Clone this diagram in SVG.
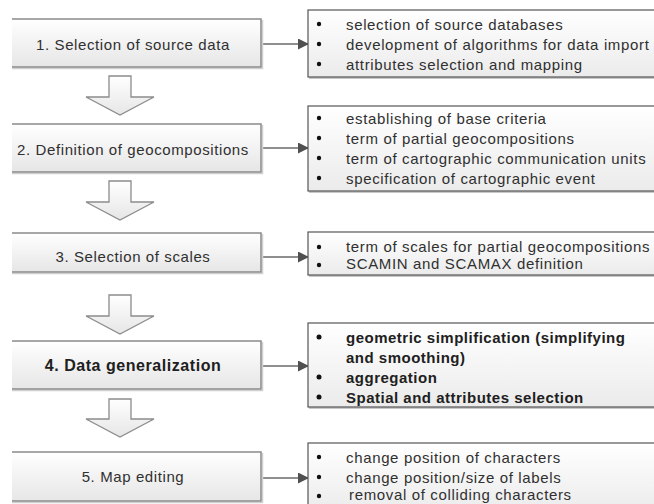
<svg xmlns="http://www.w3.org/2000/svg" width="654" height="504" viewBox="0 0 654 504">
<defs>
<linearGradient id="gBox" x1="0" y1="0" x2="0" y2="1">
<stop offset="0" stop-color="#ffffff"/>
<stop offset="1" stop-color="#e6e6e6"/>
</linearGradient>
<linearGradient id="gList" x1="0" y1="0" x2="0" y2="1">
<stop offset="0" stop-color="#ffffff"/>
<stop offset="1" stop-color="#ebebeb"/>
</linearGradient>
<marker id="ah" markerWidth="11" markerHeight="11" refX="10" refY="5.5" orient="auto" markerUnits="userSpaceOnUse">
<path d="M0,0 L11,5.5 L0,11 Z" fill="#505050"/>
</marker>
</defs>
<style>
.stepbg{fill:url(#gBox);}
.stepln{fill:none;stroke:#8a8a8a;stroke-width:1.5;}
.stepsh{fill:none;stroke:#cfcfcf;stroke-width:1.5;}
.listbg{fill:url(#gList);stroke:#555;stroke-width:1.2;}
.listsh{fill:none;stroke:#b5b5b5;stroke-width:1.5;}
.st{font-family:"Liberation Sans",Arial,sans-serif;font-size:15px;letter-spacing:0.6px;fill:#303030;text-anchor:middle;}
.li{font-family:"Liberation Sans",Arial,sans-serif;font-size:15px;letter-spacing:0.65px;fill:#303030;}
.b{font-weight:bold;fill:#202020;letter-spacing:0.5px;}
.sb{font-size:16px;letter-spacing:0.55px;}
.dot{fill:#111;}
.conn{stroke:#6a6a6a;stroke-width:1.5;fill:none;}
.blk{fill:url(#gBox);stroke:#8c8c8c;stroke-width:1.3;}
</style>

<g id="connectors">
<line class="conn" x1="262" y1="44" x2="308" y2="44" marker-end="url(#ah)"/>
<line class="conn" x1="262" y1="148" x2="308" y2="148" marker-end="url(#ah)"/>
<line class="conn" x1="262" y1="257" x2="308" y2="257" marker-end="url(#ah)"/>
<line class="conn" x1="262" y1="366" x2="308" y2="366" marker-end="url(#ah)"/>
<line class="conn" x1="262" y1="478" x2="308" y2="478" marker-end="url(#ah)"/>
<path class="blk" d="M109,76 H131 V97 H154 L120,115 L86,97 H109 Z"/>
<path class="blk" d="M109,181 H131 V202 H154 L120,220 L86,202 H109 Z"/>
<path class="blk" d="M109,295 H131 V316 H154 L120,334 L86,316 H109 Z"/>
<path class="blk" d="M109,399 H131 V419 H154 L120,437 L86,419 H109 Z"/>
</g>

<g id="step1">
<rect class="stepbg" x="12" y="19" width="249" height="48"/>
<path class="stepsh" d="M12,68.5 H262.5 V20"/>
<path class="stepln" d="M12,19 H261 V67 H12"/>
<text class="st" x="133" y="49.5">1. Selection of source data</text>
</g>
<g id="list1">
<path class="listsh" d="M309,78 H660"/>
<rect class="listbg" x="308" y="10" width="352" height="67"/>
<circle class="dot" cx="319" cy="24" r="2.2"/>
<circle class="dot" cx="319" cy="44" r="2.2"/>
<circle class="dot" cx="319" cy="64" r="2.2"/>
<text class="li" x="346" y="29.5">selection of source databases</text>
<text class="li" x="346" y="49.5">development of algorithms for data import</text>
<text class="li" x="346" y="69.5">attributes selection and mapping</text>
</g>

<g id="step2">
<rect class="stepbg" x="12" y="124" width="249" height="48"/>
<path class="stepsh" d="M12,173.5 H262.5 V125"/>
<path class="stepln" d="M12,124 H261 V172 H12"/>
<text class="st" x="133" y="154.5">2. Definition of geocompositions</text>
</g>
<g id="list2">
<path class="listsh" d="M309,192 H660"/>
<rect class="listbg" x="308" y="106" width="352" height="85"/>
<circle class="dot" cx="319" cy="118" r="2.2"/>
<circle class="dot" cx="319" cy="138" r="2.2"/>
<circle class="dot" cx="319" cy="158" r="2.2"/>
<circle class="dot" cx="319" cy="178" r="2.2"/>
<text class="li" x="346" y="123.5">establishing of base criteria</text>
<text class="li" x="346" y="143.5">term of partial geocompositions</text>
<text class="li" x="346" y="163.5">term of cartographic communication units</text>
<text class="li" x="346" y="183.5">specification of cartographic event</text>
</g>

<g id="step3">
<rect class="stepbg" x="12" y="233" width="249" height="39"/>
<path class="stepsh" d="M12,273.5 H262.5 V234"/>
<path class="stepln" d="M12,233 H261 V272 H12"/>
<text class="st" x="133" y="261.5">3. Selection of scales</text>
</g>
<g id="list3">
<path class="listsh" d="M309,276 H660"/>
<rect class="listbg" x="308" y="232" width="352" height="43"/>
<circle class="dot" cx="319" cy="247" r="2.2"/>
<circle class="dot" cx="319" cy="265" r="2.2"/>
<text class="li" x="346" y="252">term of scales for partial geocompositions</text>
<text class="li" x="346" y="269">SCAMIN and SCAMAX definition</text>
</g>

<g id="step4">
<rect class="stepbg" x="12" y="341" width="249" height="48"/>
<path class="stepsh" d="M12,390.5 H262.5 V342"/>
<path class="stepln" d="M12,341 H261 V389 H12"/>
<text class="st b sb" x="133" y="371">4. Data generalization</text>
</g>
<g id="list4">
<path class="listsh" d="M309,408 H660"/>
<rect class="listbg" x="308" y="323" width="352" height="84"/>
<circle class="dot" cx="319" cy="337" r="2.5"/>
<circle class="dot" cx="319" cy="377" r="2.5"/>
<circle class="dot" cx="319" cy="397" r="2.5"/>
<text class="li b" x="346" y="342.5">geometric simplification (simplifying</text>
<text class="li b" x="346" y="362.5">and smoothing)</text>
<text class="li b" x="346" y="382.5">aggregation</text>
<text class="li b" x="346" y="402.5">Spatial and attributes selection</text>
</g>

<g id="step5">
<rect class="stepbg" x="12" y="452" width="249" height="49"/>
<path class="stepsh" d="M12,502.5 H262.5 V453"/>
<path class="stepln" d="M12,452 H261 V501 H12"/>
<text class="st" x="133" y="482">5. Map editing</text>
</g>
<g id="list5">
<rect class="listbg" x="308" y="443" width="352" height="70"/>
<circle class="dot" cx="319" cy="457" r="2.2"/>
<circle class="dot" cx="319" cy="477" r="2.2"/>
<circle class="dot" cx="319" cy="496" r="2.2"/>
<text class="li" x="346" y="462.5">change position of characters</text>
<text class="li" x="346" y="482.5">change position/size of labels</text>
<text class="li" x="349" y="500">removal of colliding characters</text>
</g>
</svg>
